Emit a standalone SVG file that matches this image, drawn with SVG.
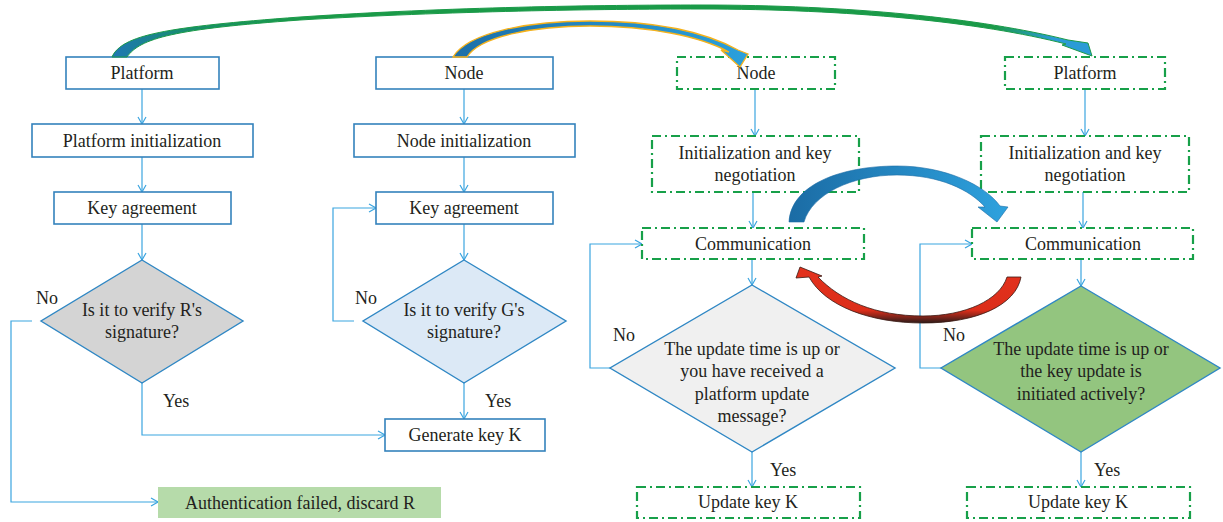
<svg xmlns="http://www.w3.org/2000/svg" width="1223" height="522" viewBox="0 0 1223 522">
<defs>
<style>
.t{font-family:"Liberation Serif","DejaVu Serif",serif;font-size:18px;fill:#231f20;text-anchor:middle}
.l{font-family:"Liberation Serif","DejaVu Serif",serif;font-size:18px;fill:#231f20}
.bb{fill:#fff;stroke:#3482bc;stroke-width:1.6}
.gb{fill:#fff;stroke:#17a049;stroke-width:2.2;stroke-dasharray:9 4 2 4}
.dm{stroke:#2f87c4;stroke-width:1.4}
.c{fill:none;stroke:#3ba5e0;stroke-width:1.2;marker-end:url(#a)}
</style>
<marker id="a" viewBox="0 0 10 10" refX="10" refY="5" markerWidth="10" markerHeight="10" markerUnits="userSpaceOnUse" orient="auto">
<path d="M3,1 L10,5 L3,9" fill="none" stroke="#3ba5e0" stroke-width="1.2"/>
</marker>
<linearGradient id="g1" gradientUnits="userSpaceOnUse" x1="112" y1="0" x2="1092" y2="0">
<stop offset="0" stop-color="#1f77b4"/><stop offset="0.08" stop-color="#178f6a"/><stop offset="0.2" stop-color="#1a9a48"/><stop offset="0.9" stop-color="#1a9a48"/><stop offset="0.96" stop-color="#2a9bd6"/>
</linearGradient>
<linearGradient id="g2" gradientUnits="userSpaceOnUse" x1="453" y1="0" x2="748" y2="0">
<stop offset="0" stop-color="#1c6fa8"/><stop offset="1" stop-color="#2aa0dc"/>
</linearGradient>
<linearGradient id="g3" gradientUnits="userSpaceOnUse" x1="790" y1="0" x2="1008" y2="0">
<stop offset="0" stop-color="#1b6ca5"/><stop offset="1" stop-color="#2ea2de"/>
</linearGradient>
<linearGradient id="g4" gradientUnits="userSpaceOnUse" x1="0" y1="262" x2="0" y2="324">
<stop offset="0" stop-color="#e4321d"/><stop offset="0.78" stop-color="#dc2e1a"/><stop offset="1" stop-color="#1e1a1a"/>
</linearGradient>
</defs>

<g id="connectors">
<path class="c" d="M142,89 V124"/>
<path class="c" d="M142,157 V192"/>
<path class="c" d="M142,224 V260"/>
<path class="c" d="M32,321 H11 V502 H158"/>
<path class="c" d="M142,383 V435 H385"/>
<path class="c" d="M464,89 V124"/>
<path class="c" d="M464,157 V192"/>
<path class="c" d="M464,224 V260"/>
<path class="c" d="M464,383 V419"/>
<path class="c" d="M354,321 H333 V208 H376"/>
<path class="c" d="M755,89 V136"/>
<path class="c" d="M753,192 V228"/>
<path class="c" d="M752,259 V285"/>
<path class="c" d="M752,452 V487"/>
<path class="c" d="M610,368 H590 V244 H642"/>
<path class="c" d="M1085,89 V136"/>
<path class="c" d="M1083,192 V228"/>
<path class="c" d="M1081,259 V286"/>
<path class="c" d="M1081,452 V487"/>
<path class="c" d="M941,368 H920 V244 H972"/>
</g>

<g id="n-platform-l"><rect class="bb" x="66" y="57" width="153" height="32"/><text class="t" x="142" y="79">Platform</text></g>
<g id="n-pinit"><rect class="bb" x="32" y="124" width="221" height="33"/><text class="t" x="142" y="147">Platform initialization</text></g>
<g id="n-ka1"><rect class="bb" x="54" y="192" width="177" height="32"/><text class="t" x="142" y="214">Key agreement</text></g>
<g id="n-d1"><polygon class="dm" fill="#d4d4d4" points="142,260 243,321 142,383 41,321"/><text class="t" x="142" y="316">Is it to verify R's</text><text class="t" x="142" y="338">signature?</text></g>
<g id="n-fail"><rect x="158" y="487" width="283" height="31" fill="#b6dbaa"/><text class="t" x="300" y="509">Authentication failed, discard R</text></g>

<g id="n-node-l"><rect class="bb" x="376" y="57" width="177" height="32"/><text class="t" x="464" y="79">Node</text></g>
<g id="n-ninit"><rect class="bb" x="354" y="124" width="221" height="33"/><text class="t" x="464" y="147">Node initialization</text></g>
<g id="n-ka2"><rect class="bb" x="376" y="192" width="177" height="32"/><text class="t" x="464" y="214">Key agreement</text></g>
<g id="n-d2"><polygon class="dm" fill="#dce9f6" points="464,260 566,321 464,383 363,321"/><text class="t" x="464" y="316">Is it to verify G's</text><text class="t" x="464" y="338">signature?</text></g>
<g id="n-gen"><rect class="bb" x="385" y="419" width="160" height="32"/><text class="t" x="465" y="441">Generate key K</text></g>

<g id="n-node-r"><rect class="gb" x="677" y="57" width="158" height="32"/><text class="t" x="756" y="79">Node</text></g>
<g id="n-ikn1"><rect class="gb" x="652" y="136" width="207" height="56"/><text class="t" x="755" y="159">Initialization and key</text><text class="t" x="755" y="181">negotiation</text></g>
<g id="n-comm1"><rect class="gb" x="642" y="228" width="222" height="31"/><text class="t" x="753" y="250">Communication</text></g>
<g id="n-d3"><polygon class="dm" fill="#f0f0f0" points="752,285 895,368 752,452 610,368"/><text class="t" x="752" y="355">The update time is up or</text><text class="t" x="752" y="377">you have received a</text><text class="t" x="752" y="400">platform update</text><text class="t" x="752" y="422">message?</text></g>
<g id="n-upd1"><rect class="gb" x="637" y="487" width="223" height="31"/><text class="t" x="748" y="508">Update key K</text></g>

<g id="n-platform-r"><rect class="gb" x="1005" y="57" width="160" height="32"/><text class="t" x="1085" y="79">Platform</text></g>
<g id="n-ikn2"><rect class="gb" x="981" y="136" width="208" height="56"/><text class="t" x="1085" y="159">Initialization and key</text><text class="t" x="1085" y="181">negotiation</text></g>
<g id="n-comm2"><rect class="gb" x="972" y="228" width="221" height="31"/><text class="t" x="1083" y="250">Communication</text></g>
<g id="n-d4"><polygon class="dm" fill="#93c57f" points="1081,286 1220,368 1081,452 941,368"/><text class="t" x="1081" y="355">The update time is up or</text><text class="t" x="1081" y="377">the key update is</text><text class="t" x="1081" y="400">initiated actively?</text></g>
<g id="n-upd2"><rect class="gb" x="967" y="487" width="223" height="31"/><text class="t" x="1078" y="508">Update key K</text></g>

<g id="labels">
<text class="l" x="36" y="304">No</text>
<text class="l" x="163" y="407">Yes</text>
<text class="l" x="355" y="304">No</text>
<text class="l" x="485" y="407">Yes</text>
<text class="l" x="613" y="341">No</text>
<text class="l" x="770" y="476">Yes</text>
<text class="l" x="943" y="341">No</text>
<text class="l" x="1094" y="476">Yes</text>
</g>

<g id="curves">
<path d="M112,57 C122,35 165,27 300,17 C450,7 600,5 700,5 C850,5 980,18 1068,40 L1088,43 L1092,56 L1062,45 L1066,44 C980,22 850,9 700,9 C600,9 450,11 300,20 C175,29 140,38 127,57 Z" fill="url(#g1)" stroke="#1a9a48" stroke-width="1"/>
<path d="M453,57 C468,32 530,21 590,21 C655,21 705,32 738,50 L748,54 L740,67 L721,50 L729,52 C700,36 648,26 590,26 C535,26 480,36 467,57 Z" fill="url(#g2)" stroke="#f5b21c" stroke-width="1.3"/>
<path d="M789,222 C791,185 840,166 897,166 C945,166 985,185 1000,206 L1008,207 L997,222 L978,207 L985,207 C970,190 940,175 897,175 C852,175 812,194 804,222 Z" fill="url(#g3)" stroke="#1b6ca5" stroke-width="0.6"/>
<path d="M1007,277 C1000,300 965,316 923,316 C875,316 840,300 818,277 L822,276 L800,267 L796,278 L809,277 C825,306 870,323 923,323 C977,323 1016,305 1021,277 Z" fill="url(#g4)" stroke="#3a1a14" stroke-width="0.8"/>
</g>
</svg>
